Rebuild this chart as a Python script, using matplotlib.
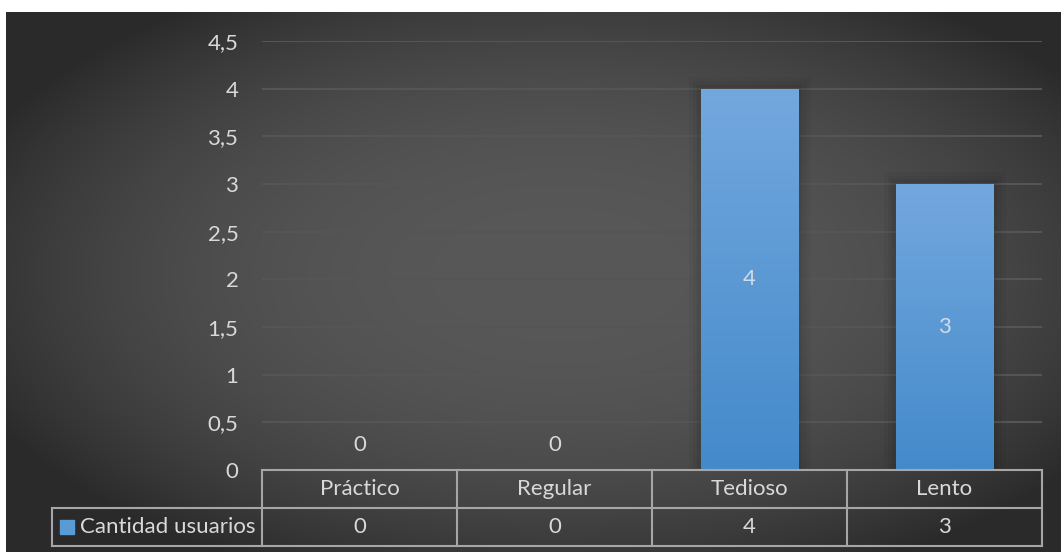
import numpy as np
import matplotlib
matplotlib.use('Agg')
import matplotlib.pyplot as plt
from matplotlib import patheffects as pe
from matplotlib.ticker import FuncFormatter, MultipleLocator
from matplotlib.transforms import blended_transform_factory

categories = ['Práctico', 'Regular', 'Tedioso', 'Lento']
cantidad_usuarios = [0, 0, 4, 3]
series_name = 'Cantidad usuarios'
y_max = 4.5
y_step = 0.5

plt.rcParams['font.family'] = ['Lato', 'DejaVu Sans']
TEXT = '#d9d9d9'
FS = 16

W, H = 1061, 552
fig = plt.figure(figsize=(W / 100, H / 100), dpi=100, facecolor='white')

# dark panel with soft radial shading
bg = fig.add_axes([6 / W, 0, (W - 6) / W, (H - 12) / H])
bg.set_axis_off()
nx, ny = W - 6, H - 12
xx, yy = np.meshgrid(np.arange(nx), np.arange(ny))
cx, cy = 554, 262
r = np.sqrt(((xx - cx) / 530) ** 2 + ((yy - cy) / 275) ** 2)
t = np.clip(r / 1.2, 0, 1) ** 2.4
v = (88 - 46 * t) / 255
bg.imshow(np.dstack([v, v, v]), extent=[0, 1, 0, 1], aspect='auto',
          origin='upper', interpolation='bilinear')
bg.set_xlim(0, 1)
bg.set_ylim(0, 1)

# plot area
ax = fig.add_axes([262 / W, 82 / H, 780 / W, 429 / H])
ax.patch.set_alpha(0)
x = np.arange(len(categories))
bars = ax.bar(x, cantidad_usuarios, width=0.5, color='#5b9bd5', zorder=2)

shadow = [pe.Stroke(linewidth=18, foreground='black', alpha=0.03),
          pe.Stroke(linewidth=12, foreground='black', alpha=0.045),
          pe.Stroke(linewidth=6, foreground='black', alpha=0.06),
          pe.Normal()]
top_c = np.array([0x73, 0xa8, 0xde]) / 255
bot_c = np.array([0x44, 0x8a, 0xcb]) / 255
ramp = np.linspace(0, 1, 256)[:, None, None]
grad = top_c[None, None, :] * (1 - ramp) + bot_c[None, None, :] * ramp
for b in bars:
    if b.get_height() <= 0:
        continue
    b.set_path_effects(shadow)
    x0 = b.get_x()
    im = ax.imshow(grad, extent=[x0, x0 + b.get_width(), 0, b.get_height()],
                   aspect='auto', origin='upper', zorder=3)
    im.set_clip_path(b)

ax.set_xlim(-0.5, len(categories) - 0.5)
ax.set_ylim(0, y_max)
ax.set_aspect('auto')
ax.yaxis.set_major_locator(MultipleLocator(y_step))
ax.yaxis.set_major_formatter(FuncFormatter(lambda val, pos: f'{val:g}'.replace('.', ',')))
ax.yaxis.grid(True, color='#555555', linewidth=1.5)
ax.set_axisbelow(True)
ax.set_xticks([])
ax.tick_params(axis='y', length=0, pad=17, labelsize=FS, labelcolor=TEXT)
for s in ax.spines.values():
    s.set_visible(False)

# value labels
for xi, val in zip(x, cantidad_usuarios):
    if val == 0:
        ax.annotate(f'{val}', (xi, 0), xytext=(0, 18), textcoords='offset points',
                    ha='center', va='center', fontsize=FS, color=TEXT)
    else:
        ax.text(xi, val / 2, f'{val}', ha='center', va='center',
                fontsize=FS, color='#d3dbe4', zorder=4)

# data table under the plot
tr = blended_transform_factory(ax.transData, ax.transAxes)
rh = 38 / 429
x_left = -0.5
x_right = len(categories) - 0.5
x_leg = -0.5 - 210 / 195
line_kw = dict(color='#a6a6a6', linewidth=1.5, transform=tr, clip_on=False, zorder=5)
ax.plot([x_left, x_right], [0, 0], **line_kw)
ax.plot([x_leg, x_right], [-rh, -rh], **line_kw)
ax.plot([x_leg, x_right], [-2 * rh, -2 * rh], **line_kw)
for xb in np.arange(len(categories) + 1) - 0.5:
    ax.plot([xb, xb], [0, -2 * rh], **line_kw)
ax.plot([x_leg, x_leg], [-rh, -2 * rh], **line_kw)

for xi, cat, val in zip(x, categories, cantidad_usuarios):
    ax.text(xi, -rh / 2, cat, transform=tr, ha='center', va='center',
            fontsize=FS, color=TEXT, clip_on=False)
    ax.text(xi, -1.5 * rh, f'{val}', transform=tr, ha='center', va='center',
            fontsize=FS, color=TEXT, clip_on=False)

ax.plot([-1.5], [-1.5 * rh], marker='s', markersize=10.5, color='#5b9bd5',
        transform=tr, clip_on=False, zorder=6, linestyle='none')
ax.text(-1.433, -1.5 * rh, series_name, transform=tr, ha='left', va='center',
        fontsize=FS, color=TEXT, clip_on=False)

fig.savefig('out.png', dpi=100, facecolor='white')
